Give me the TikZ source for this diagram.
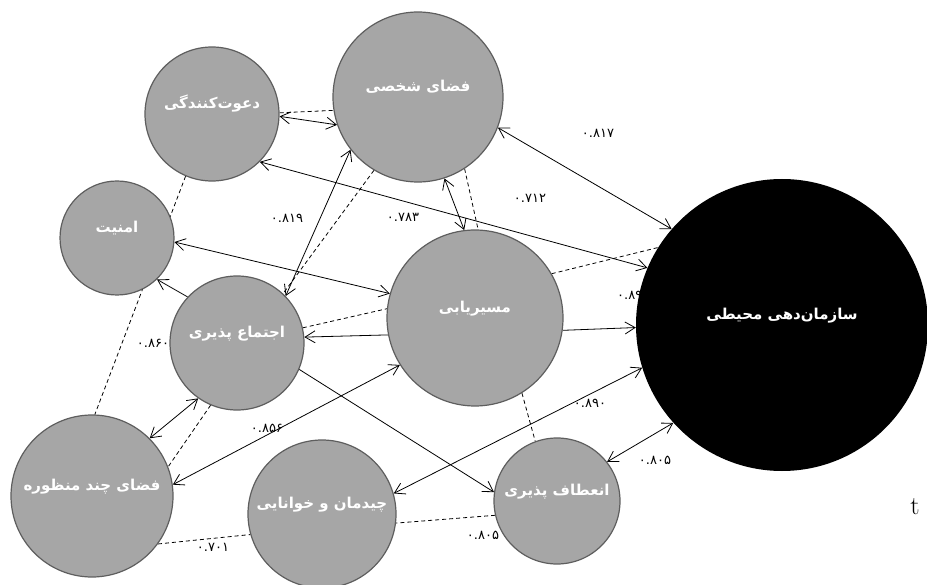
\documentclass[tikz,border=0pt]{standalone}
\usepackage{fontspec}
\usetikzlibrary{arrows.meta,backgrounds}
\TeXXeTstate=1
\newfontfamily\farsifont[Script=Arabic]{DejaVu Sans}
\newfontfamily\numfont{DejaVu Sans}
\definecolor{factorgray}{HTML}{A6A6A6}
\definecolor{rimgray}{HTML}{5E5E5E}

\begin{document}
\begin{tikzpicture}[
    x=1pt, y=-1pt,
    factor/.style={circle, draw=rimgray, fill=factorgray, line width=1.2pt, inner sep=0pt, minimum size=#1, text=white, font=\farsifont\bfseries\fontsize{15}{15}\selectfont, text height=9pt, text depth=20pt},
    outcome/.style={circle, fill=black, inner sep=0pt, minimum size=#1, text=white, font=\farsifont\bfseries\fontsize{15}{15}\selectfont, text height=9pt, text depth=20pt},
    arrow/.style={line width=0.8pt, -{Straight Barb[length=10pt,width=12pt]}},
    twoway/.style={line width=0.8pt, {Straight Barb[length=10pt,width=12pt]}-{Straight Barb[length=10pt,width=12pt]}},
    corr/.style={line width=0.8pt, dash pattern=on 4pt off 3pt},
    coef/.style={font=\numfont\fontsize{13}{13}\selectfont, inner sep=0pt}
]
\useasboundingbox (0,0) rectangle (927,585);

% Nodes
\node[factor=134pt] (invite) at (212,114) {\beginR دعوت‌کنندگی\endR};
\node[factor=170pt] (personal) at (418,97) {\beginR فضای شخصی\endR};
\node[factor=114pt] (security) at (117,238) {\beginR امنیت\endR};
\node[factor=134pt] (social) at (237,343) {\beginR اجتماع پذیری\endR};
\node[factor=176pt] (wayfind) at (475,318) {\beginR مسیریابی\endR};
\node[factor=162pt] (multi) at (92,496) {\beginR فضای چند منظوره\endR};
\node[factor=148pt] (layout) at (322,514) {\beginR چیدمان و خوانایی\endR};
\node[factor=126pt] (flexible) at (557,501) {\beginR انعطاف پذیری\endR};
\node[outcome=292pt] (organize) at (782,325) {\beginR سازمان‌دهی محیطی\endR};
\node[font=\fontsize{26}{26}\selectfont, inner sep=0pt] (tmark) at (915,507) {t};

\begin{scope}[on background layer]
% Paths
\draw[twoway] (invite.-2) -- (personal.-161);
\draw[corr] (invite.1) -- (personal.-171);
\draw[twoway] (invite.-45) -- (organize.157);
\draw[twoway] (personal.-21) -- (organize.139);
\draw[twoway] (personal.-72) -- (wayfind.97);
\draw[corr] (personal.-57) -- (wayfind.88);
\draw[twoway] (personal.-142) -- (social.44);
\draw[corr] (personal.-121) -- (social.47);
\draw[corr] (invite.-113) -- (multi.88);
\draw[twoway] (security.-4) -- (wayfind.164);
\draw[arrow] (social.137) -- (security.-46);
\draw[arrow] (wayfind.-169) -- (social.5);
\draw[corr] (social.13) -- (wayfind.174);
\draw[corr] (wayfind.30) -- (organize.148);
\draw[arrow] (wayfind.-8) -- (organize.-179);
\draw[arrow] (social.-23) -- (flexible.172);
\draw[twoway] (multi.8) -- (wayfind.-148);
\draw[twoway] (social.-125) -- (multi.45);
\draw[corr] (social.-113) -- (multi.21);
\draw[twoway] (layout.16) -- (organize.-163);
\draw[corr] (wayfind.-58) -- (flexible.110);
\draw[twoway] (flexible.38) -- (organize.-138);
\draw[corr] (flexible.-167) -- (layout.-7);
\draw[corr] (multi.-36) -- (layout.-164);

% Coefficients
\node[coef] (c817) at (598,133) {۰.۸۱۷};
\node[coef] (c712) at (530,198) {۰.۷۱۲};
\node[coef] (c783) at (403,217) {۰.۷۸۳};
\node[coef] (c819) at (287,218) {۰.۸۱۹};
\node[coef] (c860) at (153,343) {۰.۸۶۰};
\node[coef, anchor=west] (c89) at (617,295) {۰.۸۹};
\node[coef] (c856) at (267,428) {۰.۸۵۶};
\node[coef] (c890) at (590,403) {۰.۸۹۰};
\node[coef] (c805a) at (655,460) {۰.۸۰۵};
\node[coef] (c805b) at (483,535) {۰.۸۰۵};
\node[coef] (c701) at (213,547) {۰.۷۰۱};
\end{scope}

\end{tikzpicture}
\end{document}
